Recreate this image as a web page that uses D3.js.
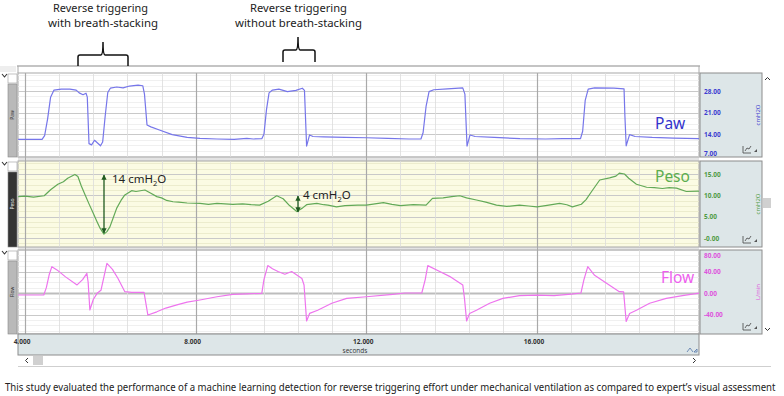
<!DOCTYPE html>
<html>
<head>
<meta charset="utf-8">
<script src="https://cdn.jsdelivr.net/npm/d3@7"></script>
<style>
  body { margin: 0; background: #fff; }
  svg { display: block; font-family: "Open Sans", "DejaVu Sans", sans-serif; }
  .tick { font-size: 6.5px; font-weight: bold; }
  .note { font-family: "Noto Sans", "Open Sans", sans-serif; fill: #222; }
</style>
</head>
<body>
<script>

    // ---- values (seconds / panel units) ----
    var pawT = [3.84,4.40,4.46,4.53,4.60,4.68,4.85,5.05,5.20,5.27,5.36,5.43,5.46,5.50,5.56,5.63,5.70,5.77,5.82,5.88,5.94,6.00,6.15,6.30,6.45,6.65,6.76,6.80,6.86,6.95,7.15,7.45,7.80,8.10,8.50,8.90,9.20,9.35,9.55,9.60,9.66,9.72,9.80,9.95,10.15,10.35,10.50,10.55,10.60,10.67,10.75,11.0,11.5,12.0,12.5,13.0,13.28,13.33,13.40,13.47,13.58,13.9,14.26,14.31,14.36,14.43,14.55,15.0,15.6,16.2,16.6,17.02,17.07,17.13,17.20,17.35,17.8,18.04,18.06,18.09,18.17,18.3,18.7,19.2,19.81];
    var pawV = [12.4,12.4,13.6,19,26,28.3,28.6,28.6,28.3,27.4,26.8,27.3,26,11.0,10.6,12.1,11.2,10.3,11.5,20,27.5,28.9,29.3,29.0,29.6,29.9,29.7,27,17,16.4,15.4,13.9,13.0,12.7,12.5,12.4,12.7,12.5,12.6,14,22,27.4,28.3,28.6,27.8,28.2,28.9,28.2,10.2,13.8,13.3,13.2,13.0,12.9,12.7,12.5,12.5,14.5,23,27.8,28.4,28.7,29.0,27,10.2,13.8,13.3,13.0,12.6,12.5,12.6,12.6,15,25,28.6,29.0,28.9,28.7,20,10.3,13.9,13.3,13.0,12.8,12.6];

    var pesoT = [3.84,4.0,4.2,4.45,4.6,4.77,4.9,5.0,5.17,5.24,5.32,5.41,5.5,5.6,5.68,5.76,5.85,5.92,5.99,6.07,6.15,6.25,6.34,6.5,6.6,6.81,6.95,7.09,7.2,7.32,7.47,7.6,7.8,8.1,8.3,8.5,8.87,9.1,9.3,9.5,9.7,9.9,10.05,10.2,10.37,10.5,10.6,10.84,11.0,11.1,11.3,11.5,11.8,12.0,12.2,12.4,12.6,12.8,13.1,13.4,13.55,13.8,14.0,14.19,14.35,14.58,14.8,15.05,15.29,15.59,15.8,16.0,16.2,16.53,16.7,16.83,17.04,17.15,17.28,17.47,17.7,17.85,17.93,18.05,18.15,18.33,18.57,18.75,18.94,19.1,19.27,19.5,19.81];
    var pesoV = [9.7,9.8,9.6,9.9,11.3,12.6,13.2,14.0,14.9,14.4,12.2,10.1,8.0,5.8,4.0,2.3,0.9,1.5,2.6,4.8,7.0,8.8,10.1,11.1,10.9,11.25,10.5,9.7,9.4,8.8,8.5,8.4,8.2,8.1,7.9,8.1,7.9,8.0,7.8,7.7,8.6,9.9,9.2,7.6,6.2,7.0,7.8,8.1,7.8,7.7,7.3,7.6,7.7,7.7,8.0,8.3,7.9,7.6,7.8,7.7,9.3,9.4,9.7,9.9,9.4,8.9,8.4,7.7,7.4,7.7,7.5,7.3,7.6,8.1,7.8,7.3,7.9,9.0,10.9,13.6,14.1,14.5,15.2,15.0,14.0,12.6,11.9,11.8,11.6,11.8,11.7,10.9,11.0];

    var flowT = [3.84,4.44,4.50,4.57,4.63,4.75,4.95,5.22,5.35,5.45,5.48,5.52,5.60,5.69,5.78,5.85,5.92,6.05,6.18,6.34,6.5,6.79,6.88,7.09,7.3,7.56,7.8,8.1,8.5,8.87,9.2,9.55,9.60,9.69,9.80,9.93,10.09,10.25,10.49,10.54,10.60,10.67,10.86,11.19,11.54,12.0,12.62,12.9,13.3,13.38,13.44,13.72,13.95,14.26,14.30,14.35,14.42,14.58,14.89,15.2,15.59,16.0,16.4,16.8,17.03,17.10,17.19,17.35,17.63,17.93,18.03,18.09,18.17,18.33,18.64,19.03,19.41,19.81];
    var flowV = [-3.7,-3.7,10,35,49,43,30,15,25,36.6,20,-31.6,-12,-0.6,5,30,55,44,27,2.5,1,1,-41,-35,-28,-22,-17,-13,-7,-2.4,-1.5,-0.6,25,51,45,40,35,40,27,15,-52,-38,-32,-19,-10,-7,-2.4,0,0,25,51,40,31,15,-10,-52,-38,-32,-19,-10,-5,-4,-5,-2,0,25,49,33,18,2.5,2,-53,-38,-32,-19,-10,-5,0];

    var timeTicks = [4, 8, 12, 16];
    var timeLabels = ["4.000", "8.000", "12.000", "16.000"];

    var pawTicks = [7, 14, 21, 28],    pawLabels = ["7.00", "14.00", "21.00", "28.00"];
    var pesoTicks = [0, 5, 10, 15],    pesoLabels = ["-0.00", "5.00", "10.00", "15.00"];
    var flowTicks = [-40, 0, 40, 80],  flowLabels = ["-40.00", "0.00", "40.00", "80.00"];

    var width = 784, height = 396;
    var left = 18, right = 699;

    var svg = d3.select("body").append("svg")
        .attr("width", width)
        .attr("height", height);

    svg.append("rect").attr("width", width).attr("height", height).attr("fill", "#fff");

    var x = d3.scaleLinear().domain([4, 16]).range([25, 537]);

    // panel definitions (screen layout only)
    var panels = [
      {name: "Paw",  t: pawT,  v: pawV,  y0: 73,  y1: 157, dom: [7, 28],  rng: [156, 91],
       ticks: pawTicks, labels: pawLabels, unit: "cmH2O", col: "#7676ea", tcol: "#3c3cd0",
       lcol: "#3333cc", bg: "#fff", bar: "#b9b9b9", barText: "#333", lx: 655, ly: 129, zero: null},
      {name: "Peso", t: pesoT, v: pesoV, y0: 161, y1: 247, dom: [0, 15],  rng: [238, 174],
       ticks: pesoTicks, labels: pesoLabels, unit: "cmH2O", col: "#62a957", tcol: "#4f9b45",
       lcol: "#5cae4e", bg: "#fbfbe3", bar: "#343434", barText: "#eee", lx: 655, ly: 182, zero: null},
      {name: "Flow", t: flowT, v: flowV, y0: 250, y1: 334, dom: [-40, 40], rng: [314.5, 271.5],
       ticks: flowTicks, labels: flowLabels, unit: "L/min", col: "#ee74ee", tcol: "#dd55dd",
       lcol: "#ee5fee", bg: "#fff", bar: "#b9b9b9", barText: "#333", lx: 661, ly: 283, zero: 0}
    ];

    // grey backdrop behind the stacked panels
    svg.append("rect").attr("x", left).attr("y", 73).attr("width", right - left).attr("height", 261)
        .attr("fill", "#e4e4e4");

    // outer frame top
    svg.append("line").attr("x1", left - 1).attr("x2", right + 1).attr("y1", 66).attr("y2", 66)
        .attr("stroke", "#8a8a8a").attr("stroke-width", 1.2);
    svg.append("line").attr("x1", left).attr("x2", left).attr("y1", 66).attr("y2", 73)
        .attr("stroke", "#aaa");
    svg.append("line").attr("x1", right).attr("x2", right).attr("y1", 66).attr("y2", 73)
        .attr("stroke", "#aaa");
    svg.append("rect").attr("x", 0).attr("y", 66).attr("width", 16).attr("height", 6).attr("fill", "#eee");

    var minorT = d3.range(4, 19.81, 0.8);

    panels.forEach(function(p, i) {
        var y = d3.scaleLinear().domain(p.dom).range(p.rng);
        var g = svg.append("g");

        g.append("rect").attr("x", left).attr("y", p.y0).attr("width", right - left).attr("height", p.y1 - p.y0)
            .attr("fill", p.bg).attr("stroke", "#a8a8a8");

        var clip = "clip" + i;
        g.append("clipPath").attr("id", clip).append("rect")
            .attr("x", left).attr("y", p.y0).attr("width", right - left).attr("height", p.y1 - p.y0);
        var inner = g.append("g").attr("clip-path", "url(#" + clip + ")");

        // horizontal grid: minor every 1/4 tick step, major at ticks
        var step = p.ticks[1] - p.ticks[0];
        var lo = y.invert(p.y1), hi = y.invert(p.y0);
        var minorV = d3.range(Math.floor(lo / step) * step, hi, step / 4);
        inner.selectAll(".hmin").data(minorV).enter().append("line")
            .attr("x1", left).attr("x2", right)
            .attr("y1", function(d) { return Math.round(y(d)) + 0.5; })
            .attr("y2", function(d) { return Math.round(y(d)) + 0.5; })
            .attr("stroke", p.bg == "#fff" ? "#ececec" : "#e9e9c8").attr("stroke-width", 0.8);
        inner.selectAll(".hmaj").data(p.ticks).enter().append("line")
            .attr("x1", left).attr("x2", right)
            .attr("y1", function(d) { return Math.round(y(d)) + 0.5; })
            .attr("y2", function(d) { return Math.round(y(d)) + 0.5; })
            .attr("stroke", function(d) { return d === p.zero ? "#bdbdbd" : "#c9c9c9"; })
            .attr("stroke-width", function(d) { return d === p.zero ? 2 : 1; });

        // vertical grid
        inner.selectAll(".vmin").data(minorT).enter().append("line")
            .attr("x1", function(d) { return Math.round(x(d)) + 0.5; })
            .attr("x2", function(d) { return Math.round(x(d)) + 0.5; })
            .attr("y1", p.y0).attr("y2", p.y1)
            .attr("stroke", function(d) { return Math.abs(d / 4 - Math.round(d / 4)) < 1e-6 ? "#a9a9a9" : "#dcdcdc"; })
            .attr("stroke-width", function(d) { return Math.abs(d / 4 - Math.round(d / 4)) < 1e-6 ? 1.2 : 0.8; });

        // trace
        var line = d3.line()
            .x(function(d, k) { return x(p.t[k]); })
            .y(function(d) { return y(d); });
        inner.append("path").datum(p.v)
            .attr("d", line)
            .attr("fill", "none")
            .attr("stroke", p.col)
            .attr("stroke-width", 1.2)
            .attr("stroke-linejoin", "round");

        // big series name
        g.append("text").attr("x", p.lx).attr("y", p.ly)
            .attr("fill", p.lcol).style("font-size", "15.5px").style("font-family", "Noto Sans, Open Sans, sans-serif")
            .text(p.name);

        // left label bar
        g.append("rect").attr("x", 8).attr("y", p.y0 + 1).attr("width", 9).attr("height", 9)
            .attr("fill", "#fff").attr("stroke", "#9a9a9a").attr("stroke-width", 0.6);
        g.append("rect").attr("x", 8).attr("y", p.y0 + 11).attr("width", 9).attr("height", p.y1 - p.y0 - 11)
            .attr("fill", p.bar).attr("stroke", "#888").attr("stroke-width", 0.6);
        g.append("text")
            .attr("transform", "translate(14," + ((p.y0 + p.y1) / 2) + ") rotate(-90)")
            .attr("text-anchor", "middle").attr("fill", p.barText)
            .style("font-size", "5px").text(p.name);
        g.append("path")
            .attr("d", "M2," + (p.y0 + 1) + " l2.5,3 l2.5,-3")
            .attr("fill", "none").attr("stroke", "#333").attr("stroke-width", 1.1);

        // right axis box
        g.append("rect").attr("x", 700).attr("y", p.y0).attr("width", 62).attr("height", p.y1 - p.y0)
            .attr("fill", "#dde6e8").attr("stroke", "#8c8c8c");
        g.selectAll(".tick").data(p.ticks).enter().append("text")
            .attr("class", "tick")
            .attr("x", 704)
            .attr("y", function(d) { return Math.max(p.y0 + 8, Math.min(p.y1 - 1, y(d) + 2.5)); })
            .attr("fill", p.tcol)
            .text(function(d, k) { return p.labels[k]; });
        g.append("text")
            .attr("transform", "translate(760," + ((p.y0 + p.y1) / 2) + ") rotate(-90)")
            .attr("text-anchor", "middle").attr("fill", p.tcol)
            .style("font-size", "6px").text(p.unit);
        // little icons in the corner
        g.append("path")
            .attr("d", "M743," + (p.y1 - 11) + " v7 h8 M745," + (p.y1 - 6) + " l2,-3 l2,1 l2,-3")
            .attr("fill", "none").attr("stroke", "#444").attr("stroke-width", 0.8);
        g.append("path")
            .attr("d", "M754," + (p.y1 - 5) + " l3,-3 v3 z")
            .attr("fill", "#555");
    });

    // major time lines cross the gaps between panels
    svg.selectAll(".vmaj").data(timeTicks).enter().append("line")
        .attr("x1", function(d) { return Math.round(x(d)) + 0.5; })
        .attr("x2", function(d) { return Math.round(x(d)) + 0.5; })
        .attr("y1", 157).attr("y2", 161)
        .attr("stroke", "#a9a9a9");
    svg.selectAll(".vmaj2").data(timeTicks).enter().append("line")
        .attr("x1", function(d) { return Math.round(x(d)) + 0.5; })
        .attr("x2", function(d) { return Math.round(x(d)) + 0.5; })
        .attr("y1", 247).attr("y2", 250)
        .attr("stroke", "#a9a9a9");

    // time axis strip
    svg.append("rect").attr("x", left).attr("y", 334).attr("width", right - left).attr("height", 21)
        .attr("fill", "#dde6e8").attr("stroke", "#8c8c8c");
    svg.selectAll(".tl").data(timeTicks).enter().append("text")
        .attr("class", "tick")
        .attr("x", function(d) { return x(d) - 3; })
        .attr("y", 344)
        .attr("text-anchor", "middle").attr("fill", "#333")
        .text(function(d, k) { return timeLabels[k]; });
    svg.append("text").attr("class", "tick").attr("x", 355).attr("y", 353)
        .attr("text-anchor", "middle").attr("fill", "#333").style("font-weight", "normal").text("seconds");
    svg.append("path").attr("d", "M687,352 l3,-4 l3,4 M694,352 l3,-3 v3 z")
        .attr("fill", "none").attr("stroke", "#5577aa").attr("stroke-width", 0.8);

    // scroll bars
    svg.append("line").attr("x1", 18).attr("x2", 771).attr("y1", 366.5).attr("y2", 366.5).attr("stroke", "#cfcfcf");
    svg.append("rect").attr("x", 33).attr("y", 356).attr("width", 10).attr("height", 9).attr("fill", "#d0d0d0");
    svg.append("path").attr("d", "M28,358 l-2.5,2.5 l2.5,2.5 M693,358 l2.5,2.5 l-2.5,2.5")
        .attr("fill", "none").attr("stroke", "#333").attr("stroke-width", 1);
    svg.append("rect").attr("x", 763).attr("y", 198).attr("width", 8).attr("height", 10).attr("fill", "#d0d0d0");
    svg.append("path").attr("d", "M765,80 l2.5,-2.5 l2.5,2.5 M765,328 l2.5,2.5 l2.5,-2.5")
        .attr("fill", "none").attr("stroke", "#333").attr("stroke-width", 1);

    // amplitude arrows on the Peso panel
    var arrows = [
      {x: 104, ya: 175, yb: 233, label: "14 cmH", lx: 112, ly: 183},
      {x: 298, ya: 196, yb: 212, label: "4 cmH",  lx: 303, ly: 199}
    ];
    svg.append("defs").append("marker")
        .attr("id", "ah").attr("viewBox", "0 0 10 10").attr("refX", 9).attr("refY", 5)
        .attr("markerWidth", 4).attr("markerHeight", 4).attr("orient", "auto-start-reverse")
        .append("path").attr("d", "M0,0 L10,5 L0,10 z").attr("fill", "#1f5a1f");
    arrows.forEach(function(a) {
        svg.append("line").attr("x1", a.x).attr("x2", a.x).attr("y1", a.ya).attr("y2", a.yb)
            .attr("stroke", "#1f5a1f").attr("stroke-width", 1.3)
            .attr("marker-start", "url(#ah)").attr("marker-end", "url(#ah)");
        var t = svg.append("text").attr("class", "note").attr("x", a.lx).attr("y", a.ly)
            .style("font-size", "11.5px");
        t.append("tspan").text(a.label);
        t.append("tspan").attr("dy", 3).style("font-size", "7.5px").text("2");
        t.append("tspan").attr("dy", -3).text("O");
    });

    // annotations above the chart
    var notes = [
      {text: "Reverse triggering",      x: 53,  y: 12, w: 95},
      {text: "with breath-stacking",    x: 48,  y: 27, w: 110},
      {text: "Reverse triggering",      x: 250, y: 12, w: 97},
      {text: "without breath-stacking", x: 235, y: 27, w: 127}
    ];
    svg.selectAll(".top").data(notes).enter().append("text")
        .attr("class", "note")
        .attr("x", function(d) { return d.x; })
        .attr("y", function(d) { return d.y; })
        .attr("textLength", function(d) { return d.w; })
        .attr("lengthAdjust", "spacingAndGlyphs")
        .style("font-size", "11px")
        .text(function(d) { return d.text; });

    // curly-ish brackets
    var brackets = [
      {x0: 78, x1: 128, xm: 103, top: 42, mid: 55, bot: 66},
      {x0: 283, x1: 315, xm: 298, top: 37, mid: 50, bot: 62}
    ];
    brackets.forEach(function(b) {
        svg.append("path")
            .attr("d", "M" + b.x0 + "," + b.bot + " V" + (b.mid + 2) + " Q" + b.x0 + "," + b.mid + " " + (b.x0 + 2) + "," + b.mid +
                 " H" + (b.xm - 2) + " Q" + b.xm + "," + b.mid + " " + b.xm + "," + b.top +
                 " Q" + b.xm + "," + b.mid + " " + (b.xm + 2) + "," + b.mid +
                 " H" + (b.x1 - 2) + " Q" + b.x1 + "," + b.mid + " " + b.x1 + "," + (b.mid + 2) + " V" + b.bot)
            .attr("fill", "none").attr("stroke", "#111").attr("stroke-width", 1.5);
    });

    // caption, squeezed horizontally to the page width (the original face is condensed)
    var cap = svg.append("text").attr("class", "note")
        .style("font-size", "10.5px")
        .text("This study evaluated the performance  of a machine  learning detection for reverse triggering effort under mechanical ventilation as compared to expert\u2019s visual assessment");
    var capW = cap.node().getComputedTextLength();
    cap.attr("transform", "translate(5,391) scale(" + (772 / capW) + ",1)");

</script>
</body>
</html>
